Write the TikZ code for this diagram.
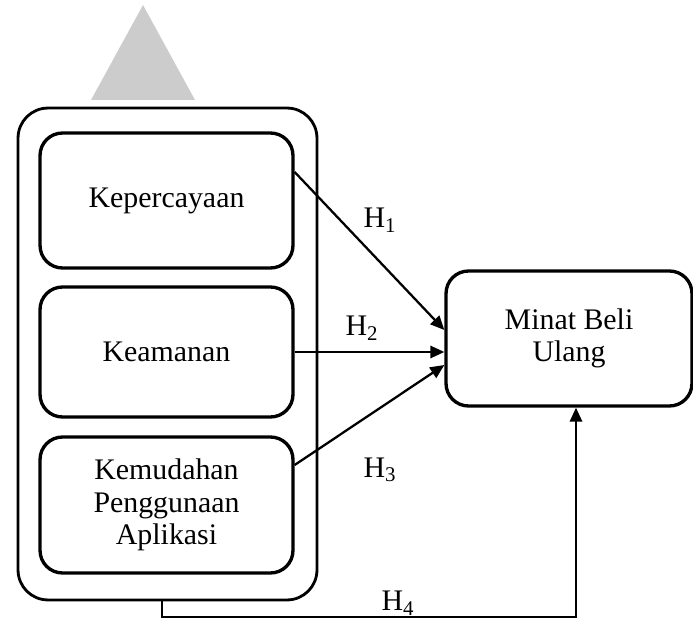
\documentclass[tikz,border=0pt]{standalone}
\usepackage{fontspec}
\setmainfont{Liberation Serif}
\usetikzlibrary{arrows.meta,positioning,calc}
\definecolor{markgray}{RGB}{204,204,204}

\begin{document}
\begin{tikzpicture}[x=0.02cm, y=-0.02cm, font=\fontsize{17}{18.5}\selectfont,
    varbox/.style={draw, line width=1.9pt, rounded corners=0.45cm, minimum width=5.06cm, align=center, inner sep=0pt},
    link/.style={-{Triangle[length=8pt,width=7pt]}, line width=1.3pt},
    hlabel/.style={inner sep=1pt}]
\useasboundingbox (0,0) rectangle (693,624);

% watermark triangle
\fill[markgray] (91,100) -- (143,5) -- (195,100) -- cycle;

\node[draw, line width=1.6pt, rounded corners=0.6cm, minimum width=5.98cm, minimum height=9.84cm] (outer) at (167.5,354) {};

\node[varbox, minimum height=2.7cm] (kep) at (166.5,200.5) {Kepercayaan};
\node[varbox, minimum height=2.6cm] (kea) at (166.5,352) {Keamanan};
\node[varbox, minimum height=2.72cm] (kem) at (166.5,505) {Kemudahan\\Penggunaan\\Aplikasi};

\node[varbox, minimum width=4.92cm, minimum height=2.7cm] (minat) at (569,338.5) {Minat Beli\\Ulang};

\draw[link] ([yshift=0.57cm]kep.east) -- ([yshift=0.17cm]minat.west);
\draw[link] (kea.east) -- (kea.east -| minat.west);
\draw[link] ([yshift=0.8cm]kem.east) -- ([yshift=-0.53cm]minat.west);
\draw[link] ([xshift=-0.11cm]outer.south) -- ++(0,16) -| ([xshift=0.14cm]minat.south);

\node[hlabel] (h1) at (380,220) {H\textsubscript{1}};
\node[hlabel] (h2) at (362,328) {H\textsubscript{2}};
\node[hlabel] (h3) at (380,470) {H\textsubscript{3}};
\node[hlabel] (h4) at (398,603) {H\textsubscript{4}};
\end{tikzpicture}
\end{document}
